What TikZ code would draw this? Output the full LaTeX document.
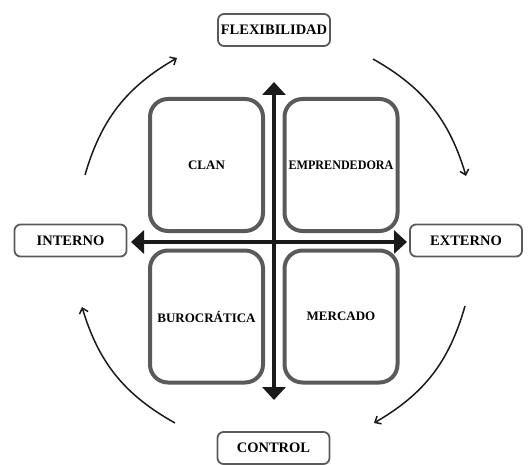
\documentclass[tikz,border=0pt]{standalone}
\usepackage{fontspec}
\setmainfont{Liberation Serif}
\usetikzlibrary{arrows.meta}
\definecolor{boxgray}{HTML}{5A5A5A}
\definecolor{ink}{HTML}{1A1A1A}
\tikzset{
  quad/.style={draw=boxgray, line width=4pt, rounded corners=18pt, minimum width=113pt, minimum height=132pt, inner sep=0pt, font=\fontsize{13}{15}\selectfont\bfseries, text=black},
  lab/.style={draw=boxgray, line width=1.8pt, rounded corners=6pt, minimum width=112pt, minimum height=32pt, inner sep=0pt, font=\fontsize{14.5}{16}\selectfont\bfseries, text=black},
  axis/.style={line width=4pt, draw=ink, {Triangle[length=13pt,width=23pt]}-{Triangle[length=13pt,width=23pt]}},
  cyc/.style={line width=1.5pt, draw=ink, -{Straight Barb[length=5pt,width=9pt]}, bend left=22}
}
\begin{document}
\begin{tikzpicture}[x=1pt,y=-1pt]
\useasboundingbox (0,0) rectangle (532,465);
% quadrant boxes
\node[quad] (clan) at (206.5,165) {CLAN};
\node[quad] (empr) at (341,165) {\scalebox{0.93}[1]{EMPRENDEDORA}};
\node[quad] (buro) at (206.5,316.5) {BUROCRÁTICA};
\node[quad] (merc) at (341,316.5) {MERCADO};
% axes
\coordinate (vt) at (274,82);
\coordinate (vb) at (274,400);
\coordinate (hl) at (131,242);
\coordinate (hr) at (407,242);
\draw[axis] (vt) -- (vb);
\draw[axis] (hl) -- (hr);
% labels
\node[lab] (flex) at (274,30) {FLEXIBILIDAD};
\node[lab] (int) at (70.5,240.5) {INTERNO};
\node[lab] (ext) at (466,240.5) {EXTERNO};
\node[lab] (ctrl) at (273.5,448) {CONTROL};
% cycle arrows
\coordinate (a1) at (85,175);
\coordinate (a2) at (177,58);
\coordinate (b1) at (373,59);
\coordinate (b2) at (466,176);
\coordinate (c1) at (465,306);
\coordinate (c2) at (374,423);
\coordinate (d1) at (175,423);
\coordinate (d2) at (82,307);
\draw[cyc] (a1) to (a2);
\draw[cyc] (b1) to (b2);
\draw[cyc] (c1) to (c2);
\draw[cyc] (d1) to (d2);
\end{tikzpicture}
\end{document}
